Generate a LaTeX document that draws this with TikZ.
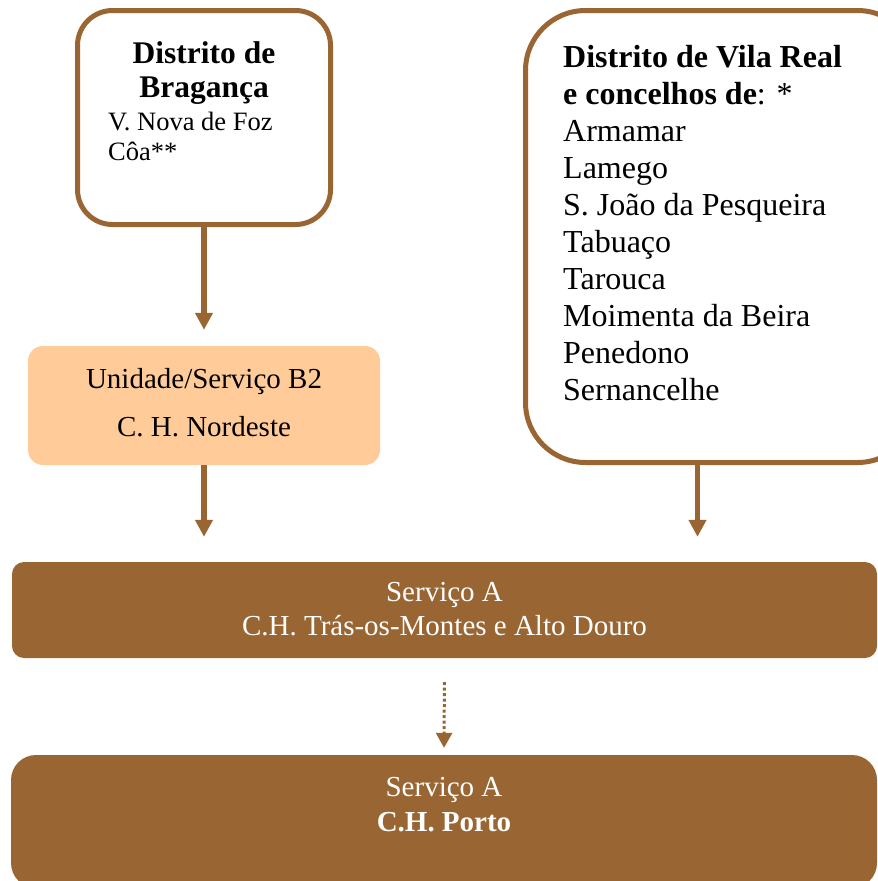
\documentclass[tikz,border=0pt]{standalone}
\usepackage{fontspec}
\setmainfont{Liberation Serif}
\usepackage{tikz}
\usetikzlibrary{arrows.meta}
\usetikzlibrary{calc}

\definecolor{chbrown}{RGB}{153,102,51}
\definecolor{chpeach}{RGB}{255,204,153}

\tikzset{
	distbox/.style={draw=chbrown, line width=5pt, fill=white, inner sep=0pt, rounded corners=#1},
	unitbox/.style={fill=chpeach, inner sep=0pt, rounded corners=15pt},
	servbox/.style={fill=chbrown, inner sep=0pt, rounded corners=#1},
	link/.style={chbrown, line width=5.5pt, -{Triangle[length=17pt,width=17pt]}},
	dotlink/.style={chbrown, line width=3pt, dash pattern=on 3pt off 2.5pt, -{Triangle[length=15pt,width=16pt]}},
	txt/.style={inner sep=0pt, text=black}
}

\begin{document}
\begin{tikzpicture}[x=1pt, y=-1pt]
	\useasboundingbox (0,0) rectangle (878,881);
	\clip (0,0) rectangle (878,881);

	\node[distbox=35pt, minimum width=253pt, minimum height=214pt] (brag) at (204,117.5) {};
	\node[distbox=60pt, minimum width=392pt, minimum height=452pt] (vila) at (721.5,236.5) {};
	\node[unitbox, minimum width=352pt, minimum height=119pt] (unid) at (204,405.5) {};
	\node[servbox=12pt, minimum width=865pt, minimum height=96pt] (servA) at (444.5,610) {};
	\node[servbox=25pt, minimum width=866pt, minimum height=133pt] (servB) at (444,821.5) {};

	\node[txt, anchor=north, align=center, font=\fontsize{31.5}{34}\selectfont\bfseries] (bragtitle) at (204,41.5) {Distrito de\\Bragança};
	\node[txt, anchor=north west, align=left, font=\fontsize{26.5}{30}\selectfont] (bragsub) at (108,112) {V. Nova de Foz\\Côa**};
	\node[txt, anchor=north west, align=left, font=\fontsize{32}{37}\selectfont] (vilatext) at (563,45) {\textbf{Distrito de Vila Real}\\\textbf{e concelhos de}: *\\Armamar\\Lamego\\S. João da Pesqueira\\Tabuaço\\Tarouca\\Moimenta da Beira\\Penedono\\Sernancelhe};
	\node[txt, anchor=north, align=center, font=\fontsize{29}{48}\selectfont] (unidtext) at (204,368) {Unidade/Serviço B2\\C. H. Nordeste};
	\node[txt, anchor=north, align=center, text=white, font=\fontsize{29}{34}\selectfont] (servAtext) at (444.5,582.5) {Serviço A\\C.H. Trás-os-Montes e Alto Douro};
	\node[txt, anchor=north, align=center, text=white, font=\fontsize{29}{35}\selectfont] (servBtext) at (444,777) {Serviço A\\\textbf{C.H. Porto}};

	\coordinate (vilaout) at ([xshift=174.5pt]vila.south west);

	\draw[link, shorten >=16pt] (brag.south) -- (unid.north);
	\draw[link, shorten >=25pt] (unid.south) -- (unid.south |- servA.north);
	\draw[link, shorten >=25pt] (vilaout) -- (vilaout |- servA.north);
	\draw[dotlink, shorten <=24pt, shorten >=7pt] (servA.south) -- (servB.north);
\end{tikzpicture}
\end{document}
